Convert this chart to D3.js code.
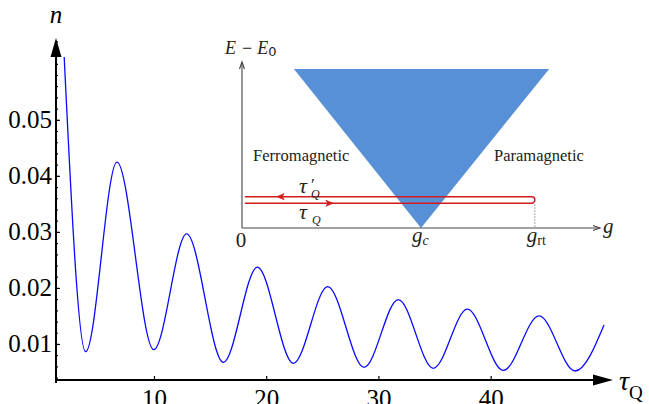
<!DOCTYPE html>
<html>
<head>
<meta charset="utf-8">
<script src="https://cdn.jsdelivr.net/npm/d3@7"></script>
<style>
  body { margin: 0; background: #fff; }
  svg { display: block; }
  text { font-family: "Liberation Serif", "Times New Roman", serif; }
</style>
</head>
<body>
<svg id="chart" width="649" height="404"></svg>
<script>
// Defect density n after a quench of duration tau_Q
const tauQ = [2.0, 3.91, 6.70, 9.98, 12.91, 16.18, 19.21, 22.42, 25.48, 28.72,
              31.77, 34.89, 37.92, 41.13, 44.31, 47.52, 50.1];
const density = [0.0612, 0.00863, 0.04245, 0.00898, 0.02964, 0.00673, 0.02370, 0.00655,
                 0.02023, 0.00584, 0.01793, 0.00566, 0.01620, 0.00527, 0.01500, 0.00518, 0.01339];

const xTickValues = [10, 20, 30, 40];
const yTickValues = [0.01, 0.02, 0.03, 0.04, 0.05];
const yTickLabels = ["0.01", "0.02", "0.03", "0.04", "0.05"];

// Inset: schematic phase diagram in (g, E - E0)
const phaseNames = ["Ferromagnetic", "Paramagnetic"];
const phaseG = [0.031, 0.704];
const gMarkLabels = ["0", "c", "rt"];
const gMarkValues = [0, 0.5, 0.818];
const gapTopG = [0.145, 0.858];
const gapTopE = 0.958;
const loopE = [0.189, 0.149];
const loopStartG = 0.008;
const arrowG = [0.098, 0.254];

const svg = d3.select("#chart");

const x = d3.scaleLinear().domain([1.27, 50.9]).range([56, 613]);
const y = d3.scaleLinear().domain([0.00357, 0.0646]).range([380, 38]);

// ---- main axes ----
const axisG = svg.append("g");
axisG.append("line")
  .attr("x1", x(1.27)).attr("x2", x(50.9) - 18)
  .attr("y1", y(0.00357)).attr("y2", y(0.00357))
  .attr("stroke", "#000").attr("stroke-width", 2);
axisG.append("path")
  .attr("d", `M${x(50.9)},${y(0.00357)} L${x(50.9) - 20},${y(0.00357) - 5.5} L${x(50.9) - 20},${y(0.00357) + 5.5} Z`)
  .attr("fill", "#000");
axisG.append("line")
  .attr("x1", x(1.27)).attr("x2", x(1.27))
  .attr("y1", y(0.00357) + 3).attr("y2", y(0.0646) + 16)
  .attr("stroke", "#000").attr("stroke-width", 2);
axisG.append("path")
  .attr("d", `M${x(1.27)},${y(0.0646)} L${x(1.27) - 5.5},${y(0.0646) + 19} L${x(1.27) + 5.5},${y(0.0646) + 19} Z`)
  .attr("fill", "#000");

// y ticks
const yAxis = d3.axisLeft(y).tickValues(yTickValues)
  .tickFormat((d, i) => yTickLabels[i]).tickSizeInner(-4).tickSizeOuter(0).tickPadding(4);
const yg = svg.append("g").attr("transform", `translate(${x(1.27)},0)`).call(yAxis);
yg.select(".domain").remove();
yg.selectAll(".tick line").attr("stroke", "#000").attr("stroke-width", 1.2);
yg.selectAll(".tick text").attr("font-size", 25).attr("fill", "#000");

const yMinor = d3.axisLeft(y).tickValues(d3.range(0.004, 0.0641, 0.002))
  .tickFormat("").tickSizeInner(-2).tickSizeOuter(0);
const ymg = svg.append("g").attr("transform", `translate(${x(1.27)},0)`).call(yMinor);
ymg.select(".domain").remove();
ymg.selectAll(".tick line").attr("stroke", "#000").attr("stroke-width", 1.2);

// x ticks
const xAxis = d3.axisBottom(x).tickValues(xTickValues)
  .tickSizeInner(-4).tickSizeOuter(0).tickPadding(9);
const xg = svg.append("g").attr("transform", `translate(0,${y(0.00357)})`).call(xAxis);
xg.select(".domain").remove();
xg.selectAll(".tick line").attr("stroke", "#000").attr("stroke-width", 1.2);
xg.selectAll(".tick text").attr("font-size", 25).attr("fill", "#000");

// axis titles
svg.append("text").attr("x", 56).attr("y", 23).attr("text-anchor", "middle")
  .attr("font-style", "italic").attr("font-size", 25).text("n");
const xt = svg.append("text").attr("x", 619).attr("y", 390);
xt.append("tspan").attr("font-style", "italic").attr("font-size", 28).text("τ");
xt.append("tspan").attr("font-size", 19).attr("dy", 9).text("Q");

// ---- curve ----
const line = d3.line()
  .x((d, i) => x(tauQ[i]))
  .y(d => y(d))
  .curve(d3.curveMonotoneX);
svg.append("path")
  .datum(density)
  .attr("d", line)
  .attr("fill", "none")
  .attr("stroke", "#0a0aff")
  .attr("stroke-width", 1.3);

// ---- inset ----
const gs = d3.scaleLinear().domain([0, 1]).range([242, 600]);
const es = d3.scaleLinear().domain([0, 1]).range([228, 62]);
const inset = svg.append("g");

// gapped region
inset.append("path")
  .attr("d", `M${gs(gapTopG[0])},${es(gapTopE)} L${gs(gapTopG[1])},${es(gapTopE)} L${gs(0.5)},${es(0)} Z`)
  .attr("fill", "#5790d6");

// axes
inset.append("line").attr("x1", gs(0)).attr("x2", gs(0)).attr("y1", es(0)).attr("y2", es(1))
  .attr("stroke", "#444").attr("stroke-width", 1.1);
inset.append("line").attr("x1", gs(0)).attr("x2", gs(1)).attr("y1", es(0)).attr("y2", es(0))
  .attr("stroke", "#444").attr("stroke-width", 1.1);
inset.append("path").attr("d", `M${gs(0) - 2.5},${es(1) + 7} L${gs(0)},${es(1)} L${gs(0) + 2.5},${es(1) + 7}`)
  .attr("fill", "none").attr("stroke", "#444").attr("stroke-width", 1.1);
inset.append("path").attr("d", `M${gs(1) - 7},${es(0) - 2.5} L${gs(1)},${es(0)} L${gs(1) - 7},${es(0) + 2.5}`)
  .attr("fill", "none").attr("stroke", "#444").attr("stroke-width", 1.1);

// dotted guide at g_rt
inset.append("line").attr("x1", gs(gMarkValues[2])).attr("x2", gs(gMarkValues[2]))
  .attr("y1", es(loopE[1]) + 1).attr("y2", es(0))
  .attr("stroke", "#888").attr("stroke-width", 1).attr("stroke-dasharray", "1.5,1.5");

// round-trip quench path
const yu = es(loopE[0]), yl = es(loopE[1]);
const r = (yl - yu) / 2;
const xr = gs(gMarkValues[2]) - r;
inset.append("path")
  .attr("d", `M${gs(loopStartG)},${yu} L${xr},${yu} A${r},${r} 0 0 1 ${xr},${yl} L${gs(loopStartG)},${yl}`)
  .attr("fill", "none").attr("stroke", "#d01c1c").attr("stroke-width", 1.5);
inset.append("path")
  .attr("d", `M${gs(arrowG[0]) + 7},${yu - 3} L${gs(arrowG[0])},${yu} L${gs(arrowG[0]) + 7},${yu + 3} L${gs(arrowG[0]) + 5},${yu} Z`)
  .attr("fill", "#d01c1c").attr("stroke", "#d01c1c").attr("stroke-width", 0.8);
inset.append("path")
  .attr("d", `M${gs(arrowG[1]) - 7},${yl - 3} L${gs(arrowG[1])},${yl} L${gs(arrowG[1]) - 7},${yl + 3} L${gs(arrowG[1]) - 5},${yl} Z`)
  .attr("fill", "#d01c1c").attr("stroke", "#d01c1c").attr("stroke-width", 0.8);

// labels
const txtCol = "#222";
inset.selectAll("text.phase").data(phaseNames).join("text")
  .attr("class", "phase")
  .attr("x", (d, i) => gs(phaseG[i])).attr("y", es(0.405))
  .attr("font-size", 16.5).attr("fill", txtCol).text(d => d);

const el = inset.append("text").attr("x", 225).attr("y", 53.5).attr("fill", txtCol).attr("font-size", 18);
el.append("tspan").attr("font-style", "italic").text("E");
el.append("tspan").attr("dx", 6).text("−");
el.append("tspan").attr("dx", 5).attr("font-style", "italic").text("E");
el.append("tspan").attr("font-size", 13).attr("dy", 2).attr("font-family", "DejaVu Sans").text("0");

inset.append("text").attr("x", gs(gMarkValues[0]) - 1).attr("y", 246.5).attr("text-anchor", "middle")
  .attr("font-size", 21).attr("fill", txtCol).text(gMarkLabels[0]);
const gcT = inset.append("text").attr("x", gs(gMarkValues[1]) - 9).attr("y", 242).attr("fill", txtCol);
gcT.append("tspan").attr("font-style", "italic").attr("font-size", 21).text("g");
gcT.append("tspan").attr("font-style", "italic").attr("font-size", 14).attr("dy", 3).text(gMarkLabels[1]);
const grT = inset.append("text").attr("x", gs(gMarkValues[2]) - 8).attr("y", 242).attr("fill", txtCol);
grT.append("tspan").attr("font-style", "italic").attr("font-size", 21).text("g");
grT.append("tspan").attr("font-size", 14).attr("dy", 3).text(gMarkLabels[2]);
inset.append("text").attr("x", gs(1) + 3).attr("y", 233).attr("font-style", "italic")
  .attr("font-size", 21).attr("fill", txtCol).text("g");

// tau labels on the path
const tp = inset.append("text").attr("x", 299).attr("y", 193).attr("fill", txtCol);
tp.append("tspan").attr("font-style", "italic").attr("font-size", 22).text("τ");
inset.append("text").attr("x", 311).attr("y", 190).attr("fill", txtCol).attr("font-size", 17).text("′");
inset.append("text").attr("x", 311).attr("y", 198).attr("fill", txtCol).attr("font-style", "italic").attr("font-size", 12).text("Q");
const tq = inset.append("text").attr("x", 299).attr("y", 219).attr("fill", txtCol);
tq.append("tspan").attr("font-style", "italic").attr("font-size", 22).text("τ");
inset.append("text").attr("x", 312).attr("y", 224).attr("fill", txtCol).attr("font-style", "italic").attr("font-size", 12).text("Q");
</script>
</body>
</html>
